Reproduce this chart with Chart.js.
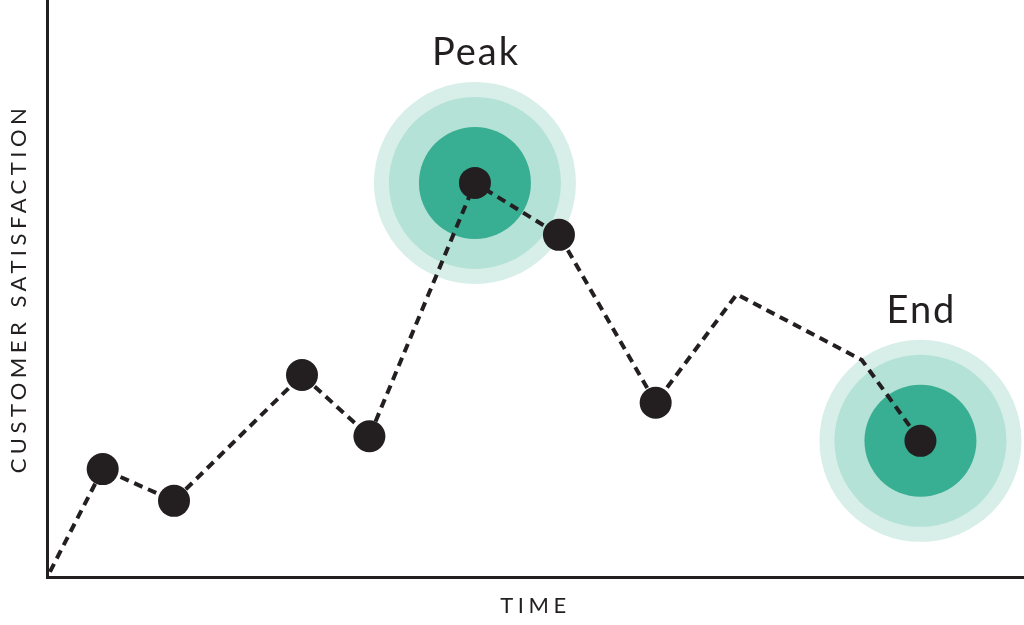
<!DOCTYPE html>
<html>
<head>
<meta charset="utf-8">
<script src="https://cdn.jsdelivr.net/npm/chart.js@4.4.1/dist/chart.umd.min.js"></script>
<style>
  html, body { margin: 0; padding: 0; background: #fff; }
  #wrap { width: 1024px; height: 625px; }
</style>
</head>
<body>
<div id="wrap"><canvas id="grafico" width="1024" height="625"></canvas></div>
<script>
// datos (eje x = tiempo, eje y = satisfaccion, escala 0-100)
const tiempo = [0.3, 5.7, 13.0, 26.1, 33.0, 43.8, 52.4, 62.3, 70.6, 83.4, 89.4];
const satisfaccion = [0.9, 18.7, 13.2, 35.0, 24.4, 68.3, 59.3, 30.2, 49.0, 37.6, 23.6];
const medido = [false, true, true, true, true, true, true, true, false, false, true];
const destacadosIdx = [5, 10];
const destacadosTexto = ['Peak', 'End'];
const tituloX = 'TIME';
const tituloY = 'CUSTOMER SATISFACTION';

const negro = '#231f20';

const puntos = tiempo.map((t, i) => ({ x: t, y: satisfaccion[i] }));
const puntosDestacados = destacadosIdx.map(i => puntos[i]);

// capas del halo: de la mas grande a la mas chica
const halo = (radio, color, orden) => ({
    data: puntosDestacados,
    showLine: false,
    pointRadius: radio,
    pointHoverRadius: radio,
    pointBackgroundColor: color,
    pointBorderWidth: 0,
    clip: false,
    order: orden
});

const etiquetas = {
    id: 'etiquetas',
    beforeDraw(chart) {
        // espaciado de los titulos de los ejes
        chart.ctx.letterSpacing = '4.5px';
    },
    afterDatasetsDraw(chart) {
        const ctx = chart.ctx;
        const sx = chart.scales.x, sy = chart.scales.y;
        ctx.save();
        ctx.letterSpacing = '2px';
        ctx.fillStyle = negro;
        ctx.font = '400 38px Lato, "Open Sans", sans-serif';
        ctx.textAlign = 'center';
        ctx.textBaseline = 'alphabetic';
        destacadosIdx.forEach((idx, k) => {
            const px = sx.getPixelForValue(tiempo[idx]);
            const py = sy.getPixelForValue(satisfaccion[idx]);
            ctx.fillText(destacadosTexto[k], px + 1, py - 118);
        });
        ctx.restore();
    }
};

const ctx = document.getElementById('grafico').getContext('2d');
new Chart(ctx, {
    type: 'scatter',
    data: {
        datasets: [
            {
                data: puntos,
                showLine: true,
                borderColor: negro,
                borderWidth: 4,
                borderDash: [9, 6],
                borderCapStyle: 'butt',
                tension: 0,
                pointRadius: c => medido[c.dataIndex] ? 16 : 0,
                pointHoverRadius: c => medido[c.dataIndex] ? 16 : 0,
                pointBackgroundColor: negro,
                pointBorderWidth: 0,
                clip: false,
                order: 0
            },
            halo(56, '#38ae93', 1),
            halo(86, '#b4e2d6', 2),
            halo(101, '#d7efe8', 3)
        ]
    },
    options: {
        responsive: false,
        devicePixelRatio: 1,
        animation: false,
        events: [],
        layout: { padding: 0, autoPadding: false },
        plugins: {
            legend: { display: false },
            tooltip: { enabled: false }
        },
        scales: {
            x: {
                type: 'linear',
                min: 0,
                max: 100,
                grid: { display: false },
                border: { display: true, color: negro, width: 3 },
                ticks: { display: false },
                title: {
                    display: true,
                    text: tituloX,
                    color: negro,
                    font: { family: 'Lato', size: 22, weight: '400' },
                    padding: { top: 0, bottom: 6 }
                },
                afterFit(scale) { scale.height = 48; }
            },
            y: {
                type: 'linear',
                min: 0,
                max: 100,
                grid: { display: false },
                border: { display: true, color: negro, width: 3 },
                ticks: { display: false },
                title: {
                    display: true,
                    text: tituloY,
                    color: negro,
                    font: { family: 'Lato', size: 22, weight: '400' },
                    padding: { top: 6, bottom: 0 }
                },
                afterFit(scale) { scale.width = 47; }
            }
        }
    },
    plugins: [etiquetas]
});
</script>
</body>
</html>
